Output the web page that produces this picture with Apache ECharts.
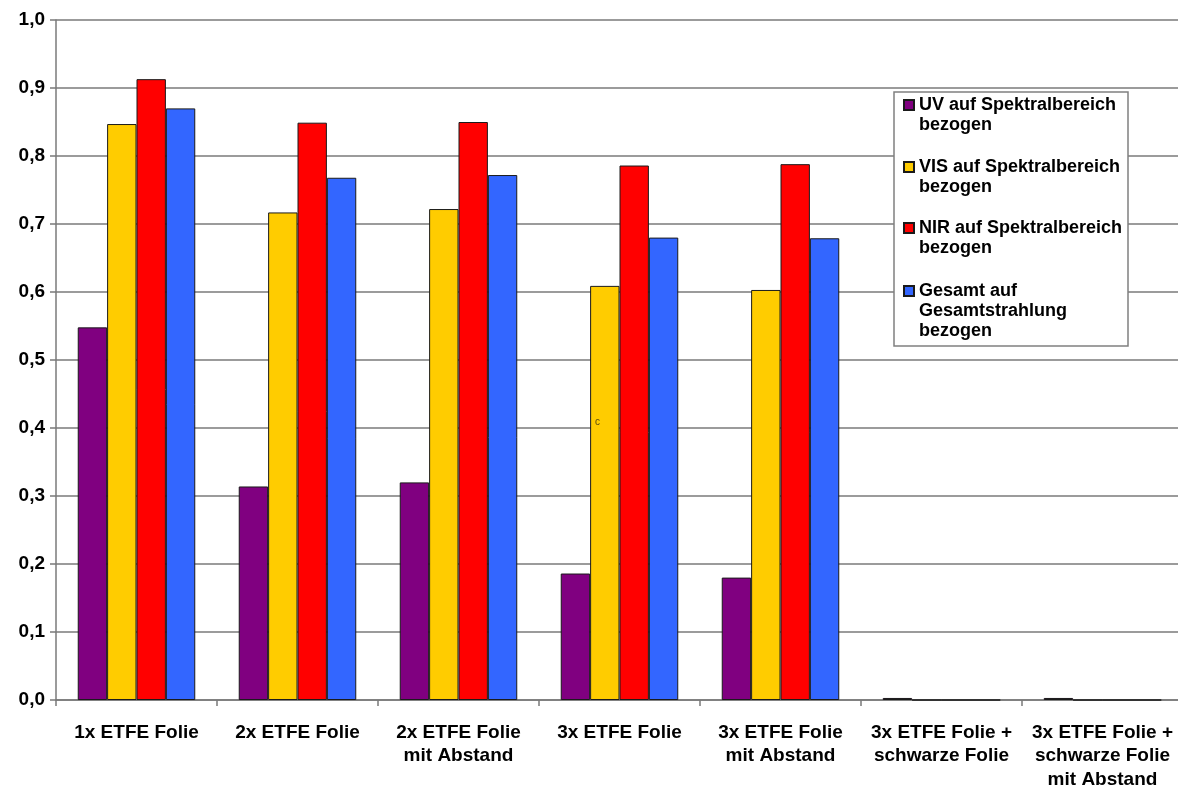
<!DOCTYPE html>
<html>
<head>
<meta charset="utf-8">
<title>Transmission ETFE Folien</title>
<script src="https://cdn.jsdelivr.net/npm/echarts@6/dist/echarts.min.js"></script>
<style>
  html, body { margin: 0; padding: 0; background: #fff; overflow: hidden; }
  /* the plot runs a few pixels past the right window edge */
  #chart { width: 1183px; height: 792px; }
</style>
</head>
<body>
<div id="chart"></div>
<script>
// Varianten des Folienaufbaus
const categories = [
  '1x ETFE Folie',
  '2x ETFE Folie',
  '2x ETFE Folie\nmit Abstand',
  '3x ETFE Folie',
  '3x ETFE Folie\nmit Abstand',
  '3x ETFE Folie +\nschwarze Folie',
  '3x ETFE Folie +\nschwarze Folie\nmit Abstand'
];

// Transmissionsgrade je Spektralbereich
const uvValues     = [0.548, 0.314, 0.320, 0.186, 0.180, 0.003, 0.003];
const visValues    = [0.847, 0.717, 0.722, 0.609, 0.603, 0, 0];
const nirValues    = [0.913, 0.849, 0.850, 0.786, 0.788, 0, 0];
const gesamtValues = [0.870, 0.768, 0.772, 0.680, 0.679, 0, 0];

const seriesNames = [
  'UV auf Spektralbereich\nbezogen',
  'VIS auf Spektralbereich\nbezogen',
  'NIR auf Spektralbereich\nbezogen',
  'Gesamt auf\nGesamtstrahlung\nbezogen'
];
const seriesColors = ['#800080', '#FFCC00', '#FF0000', '#3366FF'];
const seriesData = [uvValues, visValues, nirValues, gesamtValues];

const yTicks = { min: 0, max: 1, interval: 0.1 };

const FONT = '"Liberation Sans", Arial, sans-serif';
const GRID_COLOR = '#7a7a7a';

const chart = echarts.init(document.getElementById('chart'), null, { renderer: 'canvas' });

// Legend entries: one block per series. The text is centred on the marker,
// so empty lines are put in front to bring the first line level with it.
const legendLineHeight = 20;
const legendFirstLineY = [105, 167, 228, 291];
const legends = seriesNames.map(function (name, i) {
  const lines = name.split('\n').length;
  const blank = lines - 1;
  const blockH = (lines + blank) * legendLineHeight;
  return {
    data: [name],
    orient: 'vertical',
    left: 903,
    top: legendFirstLineY[i] - blockH / 2,
    padding: 0,
    itemWidth: 10,
    itemHeight: 10,
    icon: 'rect',
    selectedMode: false,
    z: 10,
    formatter: function (n) { return '\n'.repeat(blank) + n; },
    textStyle: {
      fontFamily: FONT,
      fontWeight: 'bold',
      fontSize: 18,
      color: '#000',
      lineHeight: legendLineHeight
    }
  };
});

const option = {
  backgroundColor: '#ffffff',
  animation: false,
  textStyle: { fontFamily: FONT },
  grid: { left: 56, right: 0, top: 20, bottom: 92, containLabel: false },
  legend: legends,
  xAxis: {
    type: 'category',
    data: categories,
    boundaryGap: true,
    axisLine: { show: true, lineStyle: { color: GRID_COLOR, width: 1.5 } },
    axisTick: { show: true, alignWithLabel: false, length: 6, lineStyle: { color: GRID_COLOR, width: 1.5 } },
    axisLabel: {
      interval: 0,
      margin: 21,
      fontFamily: FONT,
      fontWeight: 'bold',
      fontSize: 19,
      lineHeight: 23.5,
      color: '#000'
    },
    splitLine: { show: false }
  },
  yAxis: {
    type: 'value',
    min: yTicks.min,
    max: yTicks.max,
    interval: yTicks.interval,
    axisLine: { show: true, lineStyle: { color: GRID_COLOR, width: 1.5 } },
    axisTick: { show: true, inside: false, length: 6, lineStyle: { color: GRID_COLOR, width: 1.5 } },
    axisLabel: {
      margin: 11,
      fontFamily: FONT,
      fontWeight: 'bold',
      fontSize: 19,
      color: '#000',
      formatter: function (v) { return v.toFixed(1).replace('.', ','); }
    },
    splitLine: { show: true, lineStyle: { color: GRID_COLOR, width: 1.5 } }
  },
  series: seriesNames.map(function (name, i) {
    return {
      name: name,
      type: 'bar',
      data: seriesData[i],
      barGap: '0%',
      barCategoryGap: '27%',
      itemStyle: { color: seriesColors[i], borderColor: '#1a1a1a', borderWidth: 1 },
      emphasis: { disabled: true }
    };
  }),
  graphic: [
    {
      type: 'rect',
      z: 5,
      shape: { x: 894, y: 92, width: 234, height: 254 },
      style: { fill: '#ffffff', stroke: '#808080', lineWidth: 1.5 }
    },
    {
      type: 'text',
      z: 6,
      x: 595,
      y: 417,
      style: { text: 'c', fontFamily: FONT, fontSize: 10, fill: '#5a4a10' }
    }
  ]
};

chart.setOption(option);
</script>
</body>
</html>
